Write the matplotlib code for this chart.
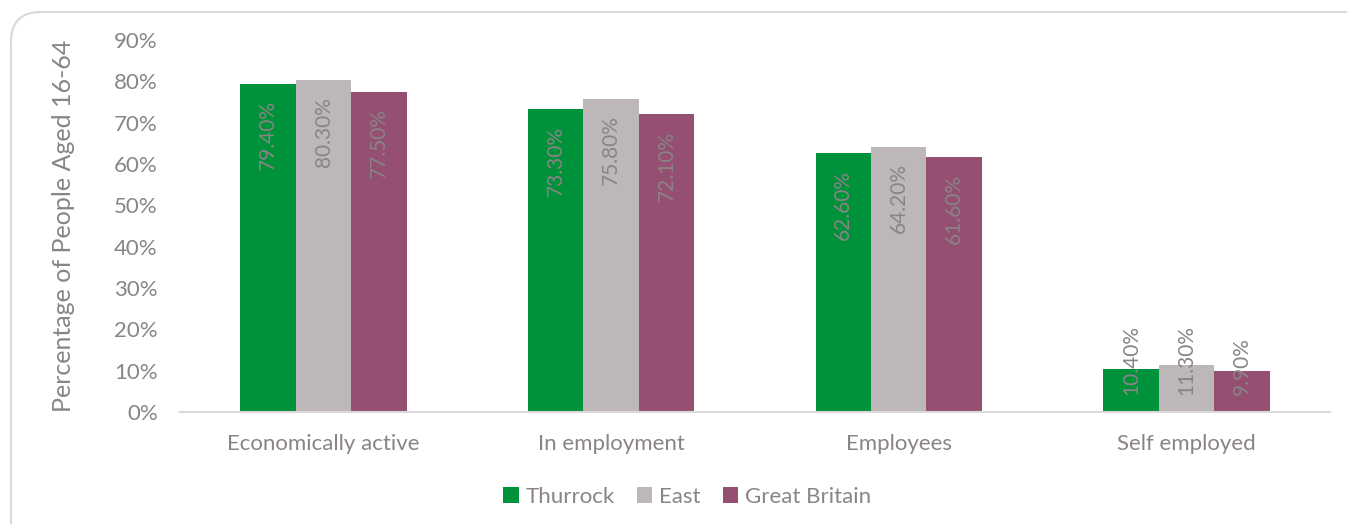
import numpy as np
import matplotlib
matplotlib.use("Agg")
import matplotlib.pyplot as plt
from matplotlib.patches import FancyBboxPatch

categories = ["Economically active", "In employment", "Employees", "Self employed"]
series = ["Thurrock", "East", "Great Britain"]
thurrock = [79.4, 73.3, 62.6, 10.4]
east = [80.3, 75.8, 64.2, 11.3]
great_britain = [77.5, 72.1, 61.6, 9.9]
yticks = [0, 10, 20, 30, 40, 50, 60, 70, 80, 90]

colors = ["#00923A", "#BDB7B9", "#954F72"]
text_c = "#8A8486"

plt.rcParams["font.family"] = ["Lato", "DejaVu Sans"]

fig = plt.figure(figsize=(13.47, 5.24), dpi=100)
ax = fig.add_axes([0.1336, 0.2137, 0.8538, 0.7100])

# rounded chart-area frame, running off the right and bottom edges
frame = FancyBboxPatch((11 / 1347, -0.2), 1.2, (512 / 524) + 0.2,
                       boxstyle="round,pad=0,rounding_size=0.022",
                       transform=fig.transFigure, fc="none",
                       ec="#D9D9D9", lw=1.5, mutation_aspect=2.57,
                       zorder=0)
fig.patches.append(frame)

x = np.arange(len(categories))
w = 0.193
for i, (vals, name) in enumerate(zip([thurrock, east, great_britain], series)):
    pos = x + (i - 1) * w
    ax.bar(pos, vals, width=w, color=colors[i], label=name, zorder=2)
    for px, v in zip(pos, vals):
        lbl = f"{v:.2f}%"
        if v > 20:
            ax.annotate(lbl, xy=(px, v), xytext=(0, -12),
                        textcoords="offset points", rotation=90,
                        ha="center", va="top", fontsize=15, color=text_c,
                        zorder=3)
        else:
            ax.annotate(lbl, xy=(px, 0), xytext=(0, 12),
                        textcoords="offset points", rotation=90,
                        ha="center", va="bottom", fontsize=15, color=text_c,
                        zorder=3)

ax.set_xlim(-0.5, len(categories) - 0.5)
ax.set_ylim(0, 90)
ax.set_yticks(yticks)
ax.set_yticklabels([f"{t}%" for t in yticks])
ax.set_xticks(x)
ax.set_xticklabels(categories)
ax.tick_params(axis="both", length=0, labelsize=16, colors=text_c)
ax.tick_params(axis="x", pad=16)
ax.tick_params(axis="y", pad=16)
for s in ["top", "right", "left"]:
    ax.spines[s].set_visible(False)
ax.spines["bottom"].set_color("#D9D9D9")
ax.spines["bottom"].set_linewidth(1.5)
ax.set_ylabel("Percentage of People Aged 16-64", fontsize=18, color=text_c)
ax.yaxis.set_label_coords(-0.091, 0.5)
ax.patch.set_alpha(0)

leg = fig.legend(loc="center", bbox_to_anchor=(0.51, 0.052), ncol=3,
                 frameon=False, fontsize=16, handlelength=0.7,
                 handleheight=0.7, handletextpad=0.3, columnspacing=1.0)
for t in leg.get_texts():
    t.set_color(text_c)

fig.savefig("out.png", dpi=100)
